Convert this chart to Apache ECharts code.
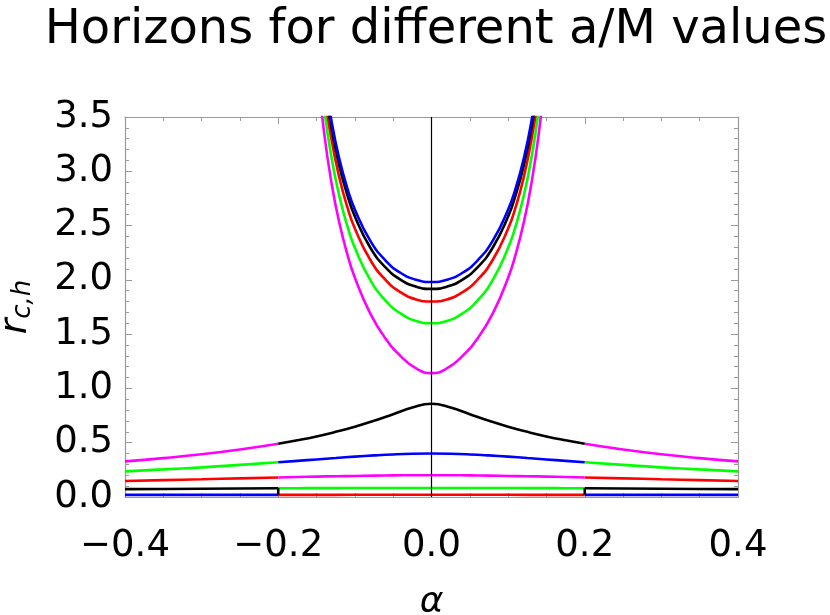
<!DOCTYPE html>
<html>
<head>
<meta charset="utf-8">
<script src="https://cdn.jsdelivr.net/npm/echarts@6/dist/echarts.min.js"></script>
<style>html,body{margin:0;padding:0;background:#fff}#c{width:830px;height:615px}</style>
</head>
<body>
<div id="c"></div>
<script>
// ---- data ----
const titleText = 'Horizons for different a/M values';
const xTicks = [-0.4, -0.2, 0.0, 0.2, 0.4];
const yTicks = [0.0, 0.5, 1.0, 1.5, 2.0, 2.5, 3.0, 3.5];

// outer horizon branches (diverging near |alpha| ~ 0.14)
const alphaUpper = [-0.15,-0.14,-0.13,-0.12,-0.11,-0.10,-0.08,-0.06,-0.04,-0.02,0,0.02,0.04,0.06,0.08,0.10,0.11,0.12,0.13,0.14,0.15];
const upperBlue    = [4.551,3.901,3.443,3.105,2.847,2.647,2.361,2.178,2.063,2.000,1.980,2.000,2.063,2.178,2.361,2.647,2.847,3.105,3.443,3.901,4.551];
const upperBlack   = [4.490,3.840,3.381,3.043,2.785,2.584,2.298,2.115,2.000,1.937,1.917,1.937,2.000,2.115,2.298,2.584,2.785,3.043,3.381,3.840,4.490];
const upperRed     = [4.384,3.732,3.273,2.933,2.674,2.473,2.185,2.000,1.884,1.820,1.800,1.820,1.884,2.000,2.185,2.473,2.674,2.933,3.273,3.732,4.384];
const upperGreen   = [4.225,3.570,3.107,2.763,2.500,2.295,2.000,1.809,1.689,1.622,1.600,1.622,1.689,1.809,2.000,2.295,2.500,2.763,3.107,3.570,4.225];
const upperMagenta = [4.013,3.347,2.872,2.516,2.240,2.020,1.691,1.460,1.295,1.184,1.141,1.184,1.295,1.460,1.691,2.020,2.240,2.516,2.872,3.347,4.013];

// inner branches for |alpha| <= 0.2
const alphaInner = [-0.2,-0.175,-0.15,-0.125,-0.1,-0.075,-0.05,-0.025,0,0.025,0.05,0.075,0.1,0.125,0.15,0.175,0.2];
const innerBlack   = [0.490,0.522,0.558,0.600,0.647,0.702,0.763,0.825,0.859,0.825,0.763,0.702,0.647,0.600,0.558,0.522,0.490];
const innerBlue    = [0.320,0.333,0.346,0.359,0.372,0.383,0.392,0.398,0.400,0.398,0.392,0.383,0.372,0.359,0.346,0.333,0.320];
const innerMagenta = [0.180,0.184,0.188,0.191,0.194,0.197,0.199,0.200,0.200,0.200,0.199,0.197,0.194,0.191,0.188,0.184,0.180];
const innerGreen   = [0.080,0.081,0.0815,0.082,0.0825,0.083,0.0832,0.0834,0.0835,0.0834,0.0832,0.083,0.0825,0.082,0.0815,0.081,0.080];
const innerRed     = [0.020,0.020,0.020,0.020,0.0201,0.0201,0.0201,0.0202,0.0202,0.0202,0.0201,0.0201,0.0201,0.020,0.020,0.020,0.020];

// inner branches for |alpha| >= 0.2 (left part and right part)
const alphaOuterL = [-0.4,-0.35,-0.3,-0.25,-0.2];
const alphaOuterR = [0.2,0.25,0.3,0.35,0.4];
const outerMagentaL = [0.328,0.358,0.393,0.437,0.490];
const outerMagentaR = [0.490,0.437,0.393,0.358,0.328];
const outerGreenL   = [0.236,0.254,0.273,0.296,0.320];
const outerGreenR   = [0.320,0.296,0.273,0.254,0.236];
const outerRedL     = [0.147,0.155,0.163,0.172,0.180];
const outerRedR     = [0.180,0.172,0.163,0.155,0.147];
const outerBlackL   = [0.0722,0.0743,0.0764,0.0783,0.080];
const outerBlackR   = [0.080,0.0783,0.0764,0.0743,0.0722];
const outerBlueL    = [0.0194,0.0196,0.0198,0.0199,0.020];
const outerBlueR    = [0.020,0.0199,0.0198,0.0196,0.0194];
// short vertical black drop at alpha = +-0.2
const dropAlpha = [-0.2, 0.2];
const dropTop = 0.080;
const dropBottom = 0.020;

// ---- build ----
const zip = (xs, ys) => xs.map((x, i) => [x, ys[i]]);
const joinLR = (xl, yl, xr, yr) => zip(xl, yl).concat([[null, null]], zip(xr, yr));

const C = { blue: '#0000ff', black: '#000000', red: '#ff0000', green: '#00ff00', magenta: '#ff00ff' };
const LW = 2.6;
function line(data, color, smooth) {
  return {
    type: 'line', data: data, showSymbol: false, symbol: 'none',
    smooth: smooth === undefined ? 0.5 : smooth,
    connectNulls: false, clip: true, silent: true, animation: false,
    lineStyle: { color: color, width: LW }
  };
}

const series = [];
series.push(line(joinLR(alphaOuterL, outerBlueL, alphaOuterR, outerBlueR), C.blue, false));
series.push(line(joinLR(alphaOuterL, outerRedL, alphaOuterR, outerRedR), C.red));
series.push(line(joinLR(alphaOuterL, outerGreenL, alphaOuterR, outerGreenR), C.green));
series.push(line(joinLR(alphaOuterL, outerMagentaL, alphaOuterR, outerMagentaR), C.magenta));
series.push(line(zip(alphaInner, innerRed), C.red, false));
series.push(line(zip(alphaInner, innerGreen), C.green));
series.push(line(zip(alphaInner, innerMagenta), C.magenta));
series.push(line(zip(alphaInner, innerBlue), C.blue));
series.push(line(zip(alphaInner, innerBlack), C.black));
series.push(line(joinLR(alphaOuterL, outerBlackL, alphaOuterR, outerBlackR), C.black, false));
series.push(line([[dropAlpha[0], dropTop], [dropAlpha[0], dropBottom], [null, null], [dropAlpha[1], dropBottom], [dropAlpha[1], dropTop]], C.black, false));
series.push(line(zip(alphaUpper, upperMagenta), C.magenta));
series.push(line(zip(alphaUpper, upperGreen), C.green));
series.push(line(zip(alphaUpper, upperRed), C.red));
series.push(line(zip(alphaUpper, upperBlack), C.black));
series.push(line(zip(alphaUpper, upperBlue), C.blue));
series[0].markLine = {
  silent: true, symbol: 'none', animation: false,
  label: { show: false },
  lineStyle: { color: '#000', width: 1.2, type: 'solid' },
  data: [{ xAxis: 0 }]
};

const FONT = 'DejaVu Sans';
const frame = '#999999';
const xMin = xTicks[0], xMax = xTicks[xTicks.length - 1], xStep = xTicks[1] - xTicks[0];
const yMin = yTicks[0], yMax = yTicks[yTicks.length - 1], yStep = yTicks[1] - yTicks[0];
const fmtX = v => (v < -1e-9 ? '\u2212' : '') + Math.abs(v).toFixed(1);
const fmtY = v => v.toFixed(1);

function xAx(pos, labels) {
  return {
    type: 'value', position: pos, min: xMin, max: xMax, interval: xStep,
    axisLine: { show: true, onZero: false, lineStyle: { color: frame, width: 1.2 } },
    axisTick: { show: true, inside: true, length: 7, lineStyle: { color: frame, width: 1 } },
    minorTick: { show: true, splitNumber: 4, length: 4, lineStyle: { color: frame, width: 1 } },
    splitLine: { show: false },
    axisLabel: labels ? { show: true, formatter: fmtX, fontFamily: FONT, fontSize: 37, color: '#000', margin: 31, showMinLabel: true, showMaxLabel: true } : { show: false },
    name: labels ? '\u03b1' : '', nameLocation: 'middle', nameGap: 88,
    nameTextStyle: { fontFamily: FONT, fontSize: 36, fontStyle: 'italic', color: '#000' }
  };
}
function yAx(pos, labels) {
  return {
    type: 'value', position: pos, min: yMin, max: yMax, interval: yStep,
    axisLine: { show: true, onZero: false, lineStyle: { color: frame, width: 1.2 } },
    axisTick: { show: true, inside: true, length: 7, lineStyle: { color: frame, width: 1 } },
    minorTick: { show: true, splitNumber: 5, length: 4, lineStyle: { color: frame, width: 1 } },
    splitLine: { show: false },
    axisLabel: labels ? { show: true, formatter: fmtY, fontFamily: FONT, fontSize: 37, color: '#000', margin: 12, showMinLabel: true, showMaxLabel: true } : { show: false },
    name: labels ? '{r|r}{s|c,h}' : '', nameLocation: 'middle', nameGap: 89, nameRotate: 90,
    nameTextStyle: {
      fontFamily: FONT, color: '#000',
      rich: {
        r: { fontFamily: FONT, fontSize: 38, fontStyle: 'italic', color: '#000' },
        s: { fontFamily: FONT, fontSize: 26, fontStyle: 'italic', color: '#000', verticalAlign: 'bottom', padding: [14, 0, 0, 0] }
      }
    }
  };
}

const chart = echarts.init(document.getElementById('c'), null, { renderer: 'canvas' });
chart.setOption({
  backgroundColor: '#ffffff',
  animation: false,
  title: {
    text: titleText, left: 431, top: 2, textAlign: 'center',
    textStyle: { fontFamily: FONT, fontSize: 48, fontWeight: 'normal', color: '#000' }
  },
  grid: { left: 125, top: 117, width: 613, height: 380, containLabel: false, outerBoundsMode: 'none' },
  xAxis: [xAx('bottom', true), xAx('top', false)],
  yAxis: [yAx('left', true), yAx('right', false)],
  series: series
});
</script>
</body>
</html>
